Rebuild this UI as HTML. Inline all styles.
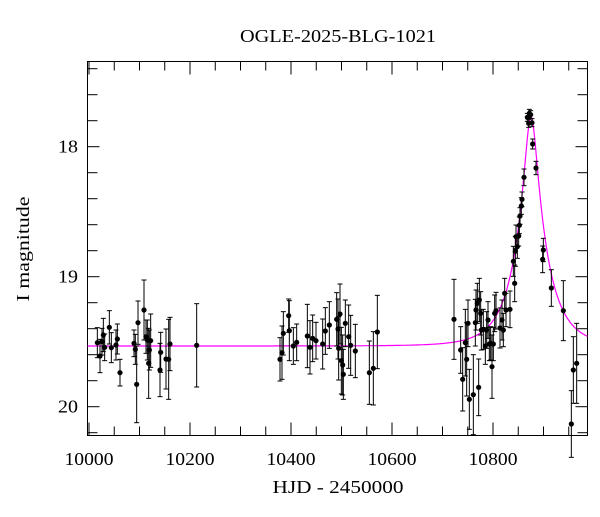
<!DOCTYPE html>
<html><head><meta charset="utf-8"><style>
html,body{margin:0;padding:0;background:#fff;}
svg text{font-family:"Liberation Serif","DejaVu Serif",serif;fill:#000;}
</style></head><body>
<svg id="s" width="600" height="512" viewBox="0 0 600 512" xmlns="http://www.w3.org/2000/svg">
<text x="338" y="42" font-size="18" text-anchor="middle" textLength="196" lengthAdjust="spacingAndGlyphs">OGLE-2025-BLG-1021</text>
<text x="338" y="493" font-size="18" text-anchor="middle" textLength="131" lengthAdjust="spacingAndGlyphs">HJD - 2450000</text>
<text transform="translate(29,249) rotate(-90)" font-size="18" text-anchor="middle" textLength="105" lengthAdjust="spacingAndGlyphs">I magnitude</text>
<g id="ax" stroke="#000" stroke-width="1" fill="none"></g>
<g id="lbl" font-size="18"></g>
<polyline id="model" fill="none" stroke="#ff00ff" stroke-width="1.2"/>
<g id="pts"></g>
</svg>
<script>
var NS="http://www.w3.org/2000/svg";
function el(t,a,p){var e=document.createElementNS(NS,t);for(var k in a)e.setAttribute(k,a[k]);p.appendChild(e);return e;}
var ax=document.getElementById('ax'),lbl=document.getElementById('lbl'),pts=document.getElementById('pts');
var L=87.5,R=587.5,T=61.5,B=435.5;
el('rect',{x:L,y:T,width:R-L,height:B-T},ax);
var x0=89,sx=0.505;
for(var d=0;d<=1050;d+=50){var x=x0+d*sx;if(x>R)break;var len=(d%200==0)?13:9;
 el('line',{x1:x,y1:B,x2:x,y2:B-len},ax);el('line',{x1:x,y1:T,x2:x,y2:T+len},ax);
 if(d%200==0){var t=el('text',{x:x,y:465,'text-anchor':'middle',textLength:49,lengthAdjust:'spacingAndGlyphs'},lbl);t.textContent=10000+d;}}
for(var m=17.4;m<=20.21;m+=0.2){var y=146.7+(m-18)*130;var mm=Math.round(m*10)/10;var maj=Math.abs(mm-Math.round(mm))<0.01;var len=maj?12:10;
 el('line',{x1:L,y1:y,x2:L+len,y2:y},ax);el('line',{x1:R,y1:y,x2:R-len,y2:y},ax);
 if(maj){var t=el('text',{x:78,y:y+6,'text-anchor':'end',textLength:20,lengthAdjust:'spacingAndGlyphs'},lbl);t.textContent=Math.round(mm);}}
var base=346,xp=531,tE=30,u0=0.2,s="";
for(var x=L;x<=R;x+=0.5){var tau=(x-xp)/tE;var u=Math.sqrt(u0*u0+tau*tau);var A=(u*u+2)/(u*Math.sqrt(u*u+4));
 var y=base-2.5*Math.log10(A)*130;s+=x.toFixed(1)+","+y.toFixed(1)+" ";}
document.getElementById('model').setAttribute('points',s);
var z1=[[52,218,45],[60,258,50],[66,215,40],[70,195,50],[74,232,40],[88,172,50],[94,233,45],[108,225,45],[112,207,45],[120,308,40],[162,220,40],[166,238,45],[170,343,115],[174,158,65],[192,120,90],[198,200,50],[202,210,60],[206,280,105],[208,240,60],[212,212,80],[240,300,80],[242,247,60],[258,267,90],[266,268,120],[270,222,80],[350,226,125],[600,268,65],[606,248,80],[610,190,65],[626,137,50],[628,182,90],[640,228,55],[650,217,55],[682,198,95],[690,232,80],[698,205,70],[708,212,55],[728,222,75],[736,183,70],[748,165,70],[770,148,80],[774,177,90],[776,235,95],[780,132,90],[784,272,100],[788,285,90],[790,313,75],[796,160,70],[806,200,95],[812,226,90],[826,243,80],[868,308,95],[880,295,110],[892,186,110]];
var z2=[[42,658,120],[62,750,70],[68,838,95],[76,728,100],[80,778,110],[84,670,70],[88,898,90],[100,884,120],[106,668,70],[108,630,60],[112,610,60],[116,862,85],[118,600,65],[122,640,65],[124,690,60],[130,688,60],[136,738,55],[140,690,55],[144,660,55],[148,732,50],[152,730,50],[156,800,95],[160,732,50],[164,640,55],[168,632,55],[180,684,60],[186,660,60],[190,690,50],[194,580,45],[198,630,50],[210,628,55],[220,484,45],[224,550,55],[226,454,45],[228,410,35],[232,440,35],[236,408,30],[238,376,25],[240,348,25],[244,318,25],[246,298,22],[252,232,25],[262,52,12],[266,70,12],[268,40,12],[272,44,12],[276,68,12],[278,132,15],[288,204,20],[308,478,40],[310,450,35],[334,564,55],[370,632,90],[394,972,100],[400,810,100],[410,790,120]];
function draw(x,y,e){el('line',{x1:x,y1:y-e,x2:x,y2:y+e,stroke:'#000','stroke-width':1},pts);
 el('line',{x1:x-2.5,y1:y-e,x2:x+2.5,y2:y-e,stroke:'#000','stroke-width':1},pts);
 el('line',{x1:x-2.5,y1:y+e,x2:x+2.5,y2:y+e,stroke:'#000','stroke-width':1},pts);
 el('circle',{cx:x,cy:y,r:2.6,fill:'#000'},pts);}
z1.forEach(function(p){draw(80+p[0]/3,270+p[1]/3,p[2]/3);});
z2.forEach(function(p){draw(440+p[0]/3,100+p[1]/3,p[2]/3);});
</script>
</body></html>
